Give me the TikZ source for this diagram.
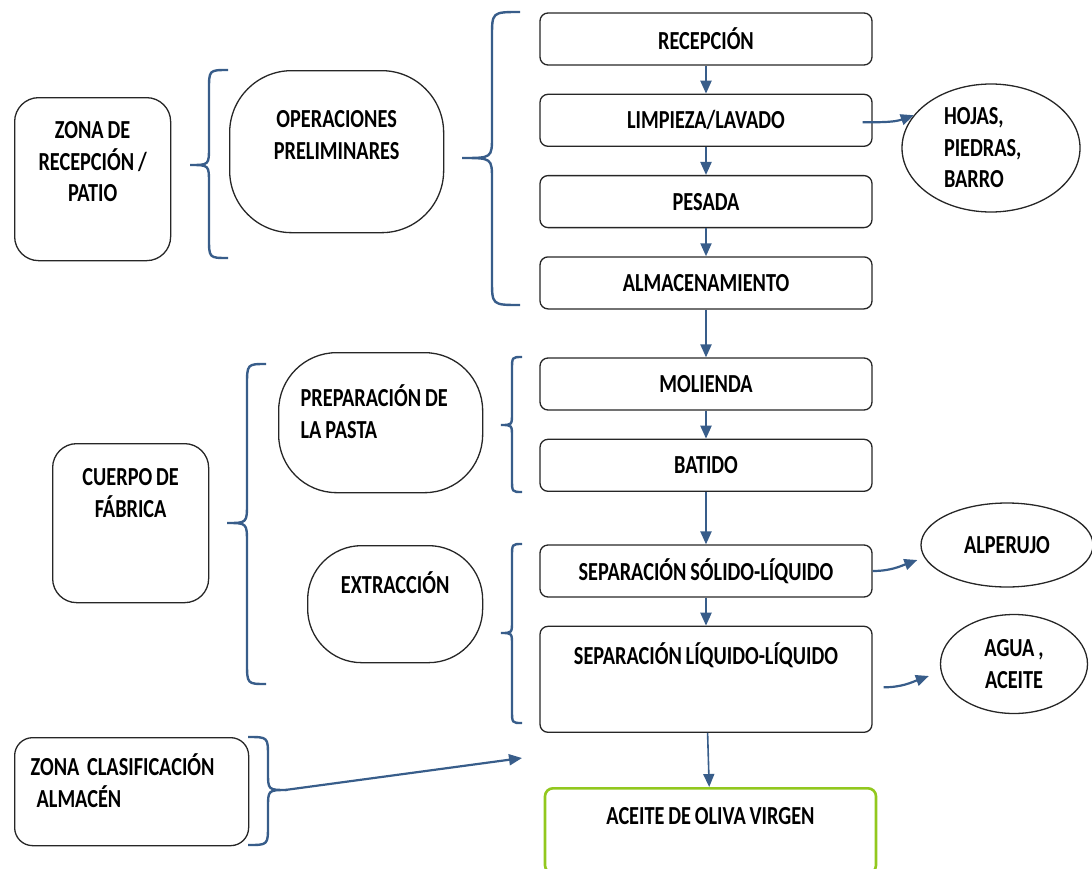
\documentclass[tikz,border=0pt]{standalone}
\usepackage{fontspec}
\setmainfont{Carlito}[FakeStretch=0.78, WordSpace=0.85]
\usetikzlibrary{positioning, arrows.meta, shapes.geometric}
\definecolor{flowblue}{RGB}{56,93,138}
\definecolor{oilgreen}{RGB}{146,200,30}
\tikzstyle{stepbox}=[
rectangle,
rounded corners=8pt,
draw=black!85,
line width=1.3pt,
minimum width=332pt,
minimum height=52pt,
inner sep=0pt,
align=center,
]
\tikzstyle{zonebox}=[
rectangle,
rounded corners=24pt,
draw=black!85,
line width=1.3pt,
inner sep=0pt,
align=center,
anchor=north west,
]
\tikzstyle{stagebox}=[
zonebox,
rounded corners=58pt,
]
\tikzstyle{waste}=[
ellipse,
draw=black!85,
line width=1.3pt,
inner sep=0pt,
]
\tikzstyle{flow}=[draw=flowblue, line width=2.2pt, -{Triangle[length=13pt,width=11pt]}]
\tikzstyle{bracket}=[draw=flowblue, line width=2.4pt]

\begin{document}
\begin{tikzpicture}
        [x=1pt, y=-1pt, font=\fontsize{26}{31.5}\selectfont\bfseries]
        \useasboundingbox (0,0) rectangle (1092,868);

        % process chain
        \node[stepbox] (recep) at (706,39) {RECEPCIÓN};
        \node[stepbox, below=28pt of recep] (limp) {LIMPIEZA/LAVADO};
        \node[stepbox, below=28pt of limp] (pesada) {PESADA};
        \node[stepbox, below=28pt of pesada] (almac) {ALMACENAMIENTO};
        \node[stepbox] (mol) at (706,384) {MOLIENDA};
        \node[stepbox, below=28pt of mol] (batido) {BATIDO};
        \node[stepbox] (sepsl) at (706,571) {SEPARACIÓN SÓLIDO-LÍQUIDO};
        \node[stepbox, below=28pt of sepsl, text height=38pt, text depth=68pt] (sepll) {SEPARACIÓN LÍQUIDO-LÍQUIDO};
        \node[stepbox, draw=oilgreen, line width=2.6pt, minimum width=331pt, anchor=north,
          text height=36pt, text depth=49pt] (aceite) at (710.5,787) {ACEITE DE OLIVA VIRGEN};

        % zones and stages
        \node[zonebox, minimum width=156pt, text height=104pt, text depth=59pt] (zrecep) at (14,97) {ZONA DE\\RECEPCIÓN /\\PATIO};
        \node[stagebox, rounded corners=62pt, minimum width=214pt, text height=88.5pt, text depth=73.5pt] (ops) at (229,70) {OPERACIONES\\PRELIMINARES};
        \node[zonebox, minimum width=156pt, text height=73.5pt, text depth=85.5pt] (cuerpo) at (52,443) {CUERPO DE\\FÁBRICA};
        \node[stagebox, align=flush left, inner xsep=22pt, text width=160pt, text height=54pt, text depth=86pt] (prep) at (278,352) {PREPARACIÓN DE\\LA PASTA};
        \node[stagebox, rounded corners=54pt, minimum width=175pt, text height=48pt, text depth=69pt] (extr) at (307,545) {EXTRACCIÓN};
        \node[zonebox, rounded corners=18pt, align=flush left, inner xsep=16pt, text width=202pt, text height=38pt, text depth=70pt] (clasif) at (14,737) {ZONA\ \ CLASIFICACIÓN\\\hspace*{6pt}ALMACÉN};

        % by-products
        \node[waste, align=flush left, text width=94pt, minimum width=178pt, minimum height=128pt] (hojas) at (991,148) {HOJAS,\\PIEDRAS,\\BARRO};
        \node[waste, minimum width=172pt, minimum height=84pt] (alp) at (1007,545) {ALPERUJO};
        \node[waste, align=center, minimum width=147pt, minimum height=99pt] (agua) at (1014,664) {AGUA ,\\ACEITE};

        \draw[flow] (recep) -- (limp);
        \draw[flow] (limp) -- (pesada);
        \draw[flow] (pesada) -- (almac);
        \draw[flow] (almac) -- (mol);
        \draw[flow] (mol) -- (batido);
        \draw[flow] (batido) -- (sepsl);
        \draw[flow] (sepsl) -- (sepll);
        \draw[flow, line width=1.6pt] (sepll) -- (aceite);

        \draw[flow] ([shift={(-10,2)}]limp.east) to[out=0,in=200] (hojas.157);
        \draw[flow] (sepsl.east) to[out=0,in=200] ([shift={(-3,15)}]alp.west);
        \draw[flow] ([shift={(11,8)}]sepll.east) to[out=0,in=200] ([shift={(-11,12)}]agua.west);

        % braces
        \draw[bracket] (228,70) .. controls (209,70) .. (209,90) -- (209,147) .. controls (209,165) .. (190,165)
          .. controls (209,165) .. (209,183) -- (209,238) .. controls (209,258) .. (228,258);
        \draw[bracket] (520,12) .. controls (492,12) .. (492,37) -- (492,136) .. controls (492,158) .. (462,158)
          .. controls (492,158) .. (492,180) -- (492,280) .. controls (492,305) .. (520,305);
        \draw[bracket] (266,364) .. controls (247,364) .. (247,386) -- (247,503) .. controls (247,523) .. (227,523)
          .. controls (247,523) .. (247,543) -- (247,662) .. controls (247,684) .. (266,684);
        \draw[bracket] (522,357) .. controls (512,357) .. (512,370) -- (512,413) .. controls (512,425) .. (501,425)
          .. controls (512,425) .. (512,437) -- (512,479) .. controls (512,492) .. (522,492);
        \draw[bracket] (522,544) .. controls (512,544) .. (512,557) -- (512,621) .. controls (512,633) .. (501,633)
          .. controls (512,633) .. (512,645) -- (512,710) .. controls (512,723) .. (522,723);
        \draw[bracket] (248,737) .. controls (268,737) .. (268,757) -- (268,772) .. controls (268,790) .. (287,790)
          .. controls (268,790) .. (268,808) -- (268,825) .. controls (268,845) .. (248,845);

        \coordinate (brtip) at (285,790);
        \coordinate (brend) at (522,758);
        \draw[flow] (brtip) -- (brend);
      \end{tikzpicture}
\end{document}
